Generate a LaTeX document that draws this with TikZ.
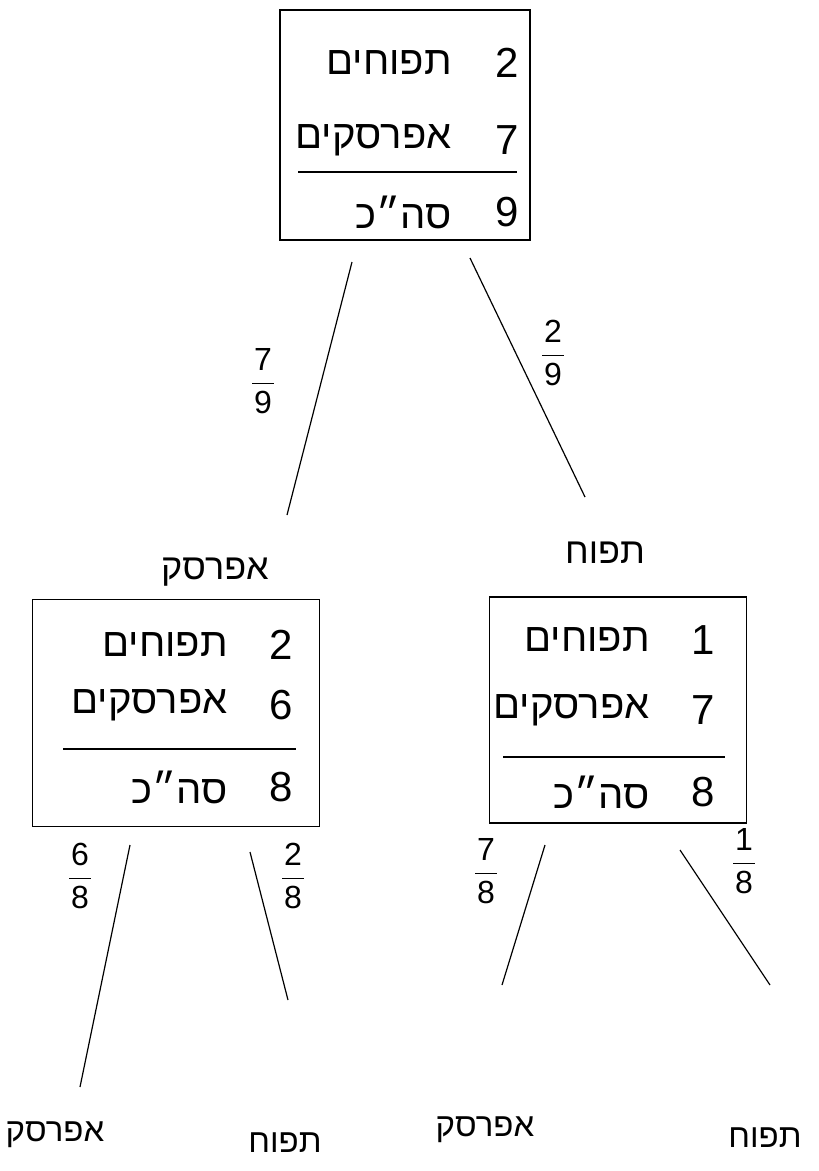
\documentclass[tikz,border=0pt]{standalone}
\usepackage{fontspec}
\setmainfont{Liberation Sans}
\newfontfamily\heb[Script=Hebrew]{Liberation Sans}
\TeXXeTstate=1
\newcommand{\myfr}[2]{\setlength{\tabcolsep}{3pt}\renewcommand{\arraystretch}{0.95}\begin{tabular}{@{\hspace{2pt}}c@{\hspace{2pt}}}#1\\[2pt]\hline\rule{0pt}{30pt}#2\end{tabular}}
\begin{document}
\begin{tikzpicture}[x=1pt,y=-1pt,
  box/.style={draw, line width=1.5pt, inner sep=0pt},
  word/.style={anchor=east, inner sep=0pt, font=\heb\fontsize{40}{44}\selectfont},
  num/.style={inner sep=0pt, font=\fontsize{42}{46}\selectfont},
  lbl/.style={inner sep=0pt, font=\heb\fontsize{36}{40}\selectfont},
  blbl/.style={inner sep=0pt, font=\heb\fontsize{33}{38}\selectfont},
  frac/.style={inner sep=0pt, font=\fontsize{32}{36}\selectfont},
  edge/.style={line width=1.2pt},
  rulebar/.style={line width=1.4pt}]
\useasboundingbox (0,0) rectangle (819,1171);
% ---------- top box
\node[box, minimum width=250pt, minimum height=230pt] (b0) at (405,125) {};
\node[word] (b0w1) at (452,63) {\beginR תפוחים\endR};
\node[num] (b0n1) at (507,63) {2};
\node[word] (b0w2) at (452,140) {\beginR אפרסקים\endR};
\node[num] (b0n2) at (507,140) {7};
\coordinate (b0r1) at (298,172);
\coordinate (b0r2) at (517,172);
\draw[rulebar] (b0r1) -- (b0r2);
\node[word] (b0w3) at (452,212) {\beginR סה״כ\endR};
\node[num] (b0n3) at (507,212) {9};
% ---------- level-1 edges
\coordinate (e1s) at (352,262);
\coordinate (e1e) at (287,515);
\coordinate (e2s) at (470,258);
\coordinate (e2e) at (585,497);
\draw[edge] (e1s) -- (e1e);
\draw[edge] (e2s) -- (e2e);
\node[frac] (f1) at (263,385) {\myfr{7}{9}};
\node[frac] (f2) at (553,357) {\myfr{2}{9}};
% ---------- level-2 labels
\node[lbl] (l1) at (215,572) {\beginR אפרסק\endR};
\node[lbl] (l2) at (605,553) {\beginR תפוח\endR};
% ---------- left box
\node[box, minimum width=287pt, minimum height=227pt] (b1) at (176,713) {};
\node[word] (b1w1) at (228,645) {\beginR תפוחים\endR};
\node[num] (b1n1) at (281,645) {2};
\node[word] (b1w2) at (228,705) {\beginR אפרסקים\endR};
\node[num] (b1n2) at (281,705) {6};
\coordinate (b1r1) at (63,749);
\coordinate (b1r2) at (296,749);
\draw[rulebar] (b1r1) -- (b1r2);
\node[word] (b1w3) at (228,787) {\beginR סה״כ\endR};
\node[num] (b1n3) at (281,787) {8};
% ---------- right box
\node[box, minimum width=257pt, minimum height=226pt] (b2) at (618,710) {};
\node[word] (b2w1) at (650,640) {\beginR תפוחים\endR};
\node[num] (b2n1) at (703,640) {1};
\node[word] (b2w2) at (650,710) {\beginR אפרסקים\endR};
\node[num] (b2n2) at (703,710) {7};
\coordinate (b2r1) at (503,757);
\coordinate (b2r2) at (725,757);
\draw[rulebar] (b2r1) -- (b2r2);
\node[word] (b2w3) at (650,792) {\beginR סה״כ\endR};
\node[num] (b2n3) at (703,792) {8};
% ---------- level-3 edges
\coordinate (e3s) at (130,845);
\coordinate (e3e) at (80,1087);
\coordinate (e4s) at (250,852);
\coordinate (e4e) at (288,1000);
\coordinate (e5s) at (545,845);
\coordinate (e5e) at (502,985);
\coordinate (e6s) at (680,850);
\coordinate (e6e) at (770,985);
\draw[edge] (e3s) -- (e3e);
\draw[edge] (e4s) -- (e4e);
\draw[edge] (e5s) -- (e5e);
\draw[edge] (e6s) -- (e6e);
\node[frac] (f3) at (80,880) {\myfr{6}{8}};
\node[frac] (f4) at (293,880) {\myfr{2}{8}};
\node[frac] (f5) at (486,875) {\myfr{7}{8}};
\node[frac] (f6) at (744,865) {\myfr{1}{8}};
% ---------- leaves
\node[blbl] (l3) at (55,1135) {\beginR אפרסק\endR};
\node[blbl] (l4) at (285,1143) {\beginR תפוח\endR};
\node[blbl] (l5) at (485,1130) {\beginR אפרסק\endR};
\node[blbl] (l6) at (765,1138) {\beginR תפוח\endR};
\end{tikzpicture}
\end{document}
